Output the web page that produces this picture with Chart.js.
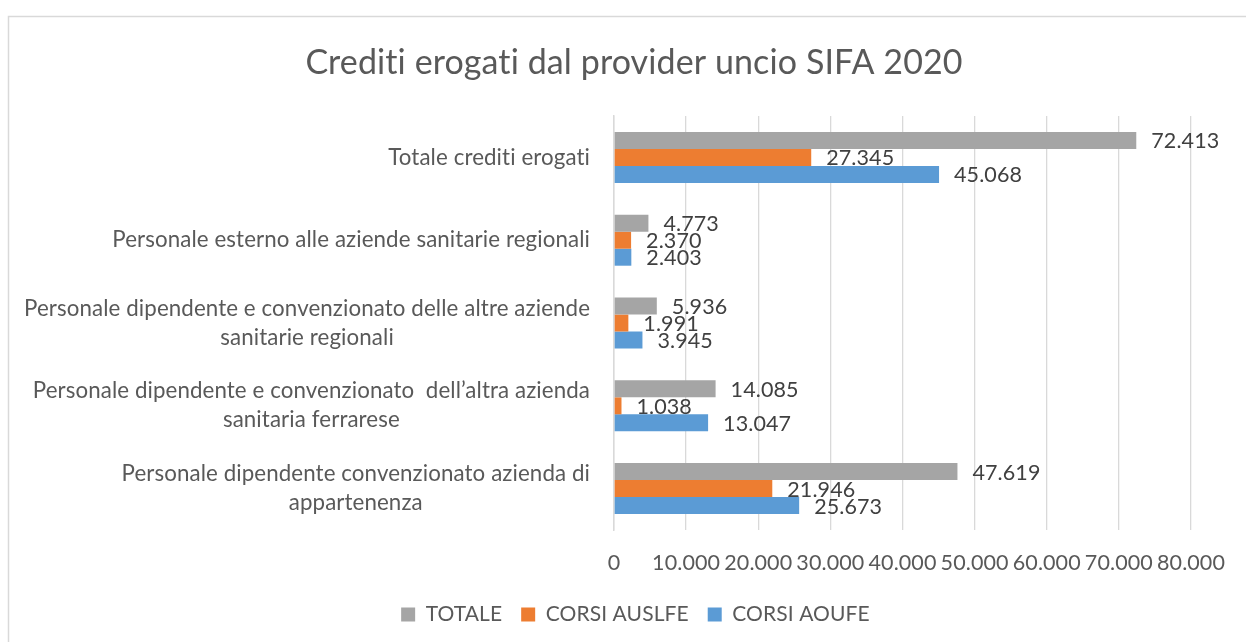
<!DOCTYPE html>
<html>
<head>
<meta charset="utf-8">
<script src="https://cdn.jsdelivr.net/npm/chart.js@4"></script>
<style>
  body { margin: 0; background: #fff; }
  canvas { display: block; }
</style>
</head>
<body>
<canvas id="chart" width="1246" height="642"></canvas>
<script>
const categories = [
    'Totale crediti erogati',
    'Personale esterno alle aziende sanitarie regionali',
    ['Personale dipendente e convenzionato delle altre aziende', 'sanitarie regionali'],
    ['Personale dipendente e convenzionato  dell’altra azienda', 'sanitaria ferrarese'],
    ['Personale dipendente convenzionato azienda di', 'appartenenza']
];
const seriesNames = ['TOTALE', 'CORSI AUSLFE', 'CORSI AOUFE'];
const totale = [72413, 4773, 5936, 14085, 47619];
const corsiAuslfe = [27345, 2370, 1991, 1038, 21946];
const corsiAoufe = [45068, 2403, 3945, 13047, 25673];
const xTicks = [0, 10000, 20000, 30000, 40000, 50000, 60000, 70000, 80000];

const FONT = 'Lato';
const TEXT = '#595959';

// 72413 -> "72.413"
const fmt = v => String(v).replace(/\B(?=(\d{3})+(?!\d))/g, '.');

const framePlugin = {
    id: 'frame',
    beforeDraw(chart) {
        const ctx = chart.ctx;
        ctx.save();
        ctx.fillStyle = '#fff';
        ctx.fillRect(0, 0, chart.width, chart.height);
        ctx.strokeStyle = '#d9d9d9';
        ctx.lineWidth = 1.5;
        ctx.strokeRect(8.5, 16.5, 1400, 800);
        ctx.restore();
        // tiny spacing keeps Lato from joining "ti" into a ligature
        ctx.letterSpacing = '0.1px';
    }
};

// category labels: block right-aligned to the axis, lines centred inside it
const catLabels = {
    id: 'catLabels',
    afterDraw(chart) {
        const ctx = chart.ctx;
        const y = chart.scales.y;
        const right = chart.chartArea.left - 24;
        ctx.save();
        ctx.font = '22.3px ' + FONT;
        ctx.fillStyle = TEXT;
        ctx.textAlign = 'center';
        ctx.textBaseline = 'middle';
        categories.forEach((lab, i) => {
            const lines = Array.isArray(lab) ? lab : [lab];
            const w = Math.max(...lines.map(l => ctx.measureText(l).width));
            const cy = y.getPixelForValue(i);
            const lh = 29;
            lines.forEach((l, j) => {
                ctx.fillText(l, right - w / 2, cy + (j - (lines.length - 1) / 2) * lh);
            });
        });
        ctx.restore();
    }
};

const valueLabels = {
    id: 'valueLabels',
    afterDatasetsDraw(chart) {
        const ctx = chart.ctx;
        ctx.save();
        ctx.font = '21.5px ' + FONT;
        ctx.fillStyle = '#404040';
        ctx.textAlign = 'left';
        ctx.textBaseline = 'middle';
        chart.data.datasets.forEach((ds, i) => {
            chart.getDatasetMeta(i).data.forEach((bar, j) => {
                ctx.fillText(fmt(ds.data[j]), bar.x + 15, bar.y + 1);
            });
        });
        ctx.restore();
    }
};

new Chart(document.getElementById('chart'), {
    type: 'bar',
    data: {
        labels: categories,
        datasets: [
            { label: seriesNames[0], data: totale, backgroundColor: '#a5a5a5' },
            { label: seriesNames[1], data: corsiAuslfe, backgroundColor: '#ed7d31' },
            { label: seriesNames[2], data: corsiAoufe, backgroundColor: '#5b9bd5' }
        ]
    },
    options: {
        indexAxis: 'y',
        responsive: false,
        animation: false,
        categoryPercentage: 0.616,
        barPercentage: 1,
        layout: { padding: { left: 22, right: 0, top: 0, bottom: 7 } },
        scales: {
            x: {
                min: 0,
                max: 80000,
                afterBuildTicks: s => { s.ticks = xTicks.map(v => ({ value: v })); },
                grid: { color: '#d9d9d9', lineWidth: 1.3, drawTicks: false },
                border: { display: false },
                ticks: {
                    padding: 20,
                    color: TEXT,
                    font: { family: FONT, size: 21.5 },
                    maxRotation: 0,
                    callback: v => fmt(v)
                },
                afterFit: s => { s.height = 55; }
            },
            y: {
                grid: { display: false },
                border: { display: true, color: '#d9d9d9', width: 1.5 },
                ticks: { display: false },
                afterFit: s => { s.width = 592; }
            },
            y2: {
                type: 'linear',
                position: 'right',
                grid: { display: false },
                border: { display: false },
                ticks: { display: false },
                afterFit: s => { s.width = 55; }
            }
        },
        plugins: {
            title: {
                display: true,
                text: 'Crediti erogati dal provider uncio SIFA 2020',
                color: TEXT,
                font: { family: FONT, size: 34, weight: 'normal' },
                padding: { top: 42.6, bottom: 32.6 }
            },
            legend: {
                position: 'bottom',
                labels: {
                    color: TEXT,
                    font: { family: FONT, size: 21 },
                    boxWidth: 14,
                    boxHeight: 14,
                    padding: 19
                }
            },
            tooltip: { enabled: false }
        }
    },
    plugins: [framePlugin, catLabels, valueLabels]
});
</script>
</body>
</html>
